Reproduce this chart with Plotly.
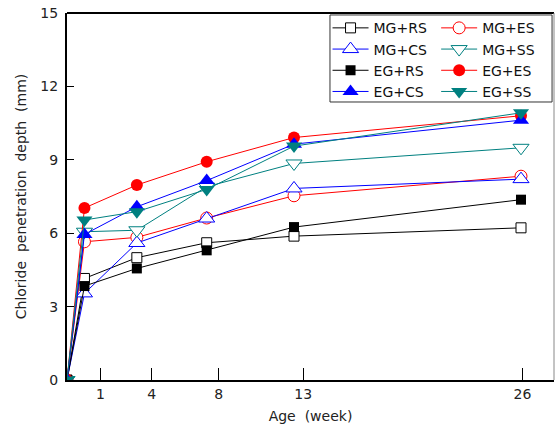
import plotly.graph_objects as go

weeks = [0, 1, 4, 8, 13, 26]
series_names = ["MG+RS", "MG+ES", "MG+CS", "MG+SS", "EG+RS", "EG+ES", "EG+CS", "EG+SS"]
mg_rs = [0, 4.15, 5.00, 5.61, 5.88, 6.22]
mg_es = [0, 5.65, 5.83, 6.62, 7.53, 8.33]
mg_cs = [0, 3.54, 5.60, 6.60, 7.83, 8.21]
mg_ss = [0, 6.06, 6.12, 7.90, 8.85, 9.49]
eg_rs = [0, 3.84, 4.56, 5.30, 6.25, 7.37]
eg_es = [0, 7.03, 7.97, 8.92, 9.91, 10.80]
eg_cs = [0, 5.95, 7.08, 8.15, 9.64, 10.62]
eg_ss = [0, 6.54, 6.88, 7.79, 9.56, 10.92]

tick_pos = [1.91, 4.85, 8.69, 13.53, 26.08]
tick_text = ["1", "4", "8", "13", "26"]
y_ticks = [0, 3, 6, 9, 12, 15]

BLACK, RED, BLUE, TEAL = "#000000", "#ff0000", "#0000ff", "#008080"

styles = {
    "MG+RS": (mg_rs, BLACK, "square", True, 10, "legend"),
    "MG+ES": (mg_es, RED, "circle", True, 12, "legend2"),
    "MG+CS": (mg_cs, BLUE, "triangle-up", True, 14, "legend"),
    "MG+SS": (mg_ss, TEAL, "triangle-down", True, 14, "legend2"),
    "EG+RS": (eg_rs, BLACK, "square", False, 10, "legend"),
    "EG+ES": (eg_es, RED, "circle", False, 12, "legend2"),
    "EG+CS": (eg_cs, BLUE, "triangle-up", False, 14, "legend"),
    "EG+SS": (eg_ss, TEAL, "triangle-down", False, 14, "legend2"),
}

fig = go.Figure()
for name in series_names:
    vals, col, sym, hollow, size, leg = styles[name]
    fig.add_trace(go.Scatter(
        x=weeks, y=vals, name=name, mode="lines+markers",
        line=dict(color=col, width=1),
        marker=dict(symbol=sym, size=size,
                    color="white" if hollow else col,
                    line=dict(color=col, width=1 if hollow else 0)),
        legend=leg,
    ))

font = "DejaVu Sans"
legend_common = dict(font=dict(family=font, size=14, color="#111111"),
                     bgcolor="rgba(0,0,0,0)", borderwidth=0,
                     itemwidth=36, tracegroupgap=0,
                     yanchor="top", y=1.002, xanchor="left")

fig.update_layout(
    width=555, height=429,
    margin=dict(l=67, r=1, t=13, b=49),
    paper_bgcolor="white", plot_bgcolor="white",
    font=dict(family=font, size=14, color="#222222"),
    legend=dict(x=0.535, **legend_common),
    legend2=dict(x=0.758, **legend_common),
    xaxis=dict(range=[0, 27.89], tickvals=tick_pos, ticktext=tick_text,
               ticks="inside", ticklen=12, tickwidth=1, tickcolor="black",
               showline=True, linewidth=2, linecolor="black",
               showgrid=False, zeroline=False, ticklabelstandoff=0,
               title=dict(text="Age  (week)", font=dict(size=14), standoff=10),
               tickfont=dict(size=14)),
    yaxis=dict(range=[0, 15], tickvals=y_ticks,
               ticks="inside", ticklen=7, tickwidth=1, tickcolor="black",
               showline=True, linewidth=2, linecolor="black",
               showgrid=False, zeroline=False, ticklabelstandoff=4,
               title=dict(text="Chloride  penetration  depth  (mm)", font=dict(size=14), standoff=10),
               tickfont=dict(size=14)),
    shapes=[
        dict(type="line", xref="paper", yref="paper", x0=0, x1=1, y0=1, y1=1,
             line=dict(color="black", width=2)),
        dict(type="line", xref="paper", yref="paper", x0=1, x1=1, y0=0, y1=1,
             line=dict(color="#888888", width=1)),
        dict(type="rect", xref="paper", yref="paper", x0=0.54, x1=0.996, y0=0.7575, y1=0.9946,
             line=dict(color="#333333", width=1), fillcolor="rgba(0,0,0,0)"),
    ],
)

fig.write_html("out.html", config={"displayModeBar": False},
               post_script="document.body.style.margin='0px';document.body.style.overflow='hidden';")
